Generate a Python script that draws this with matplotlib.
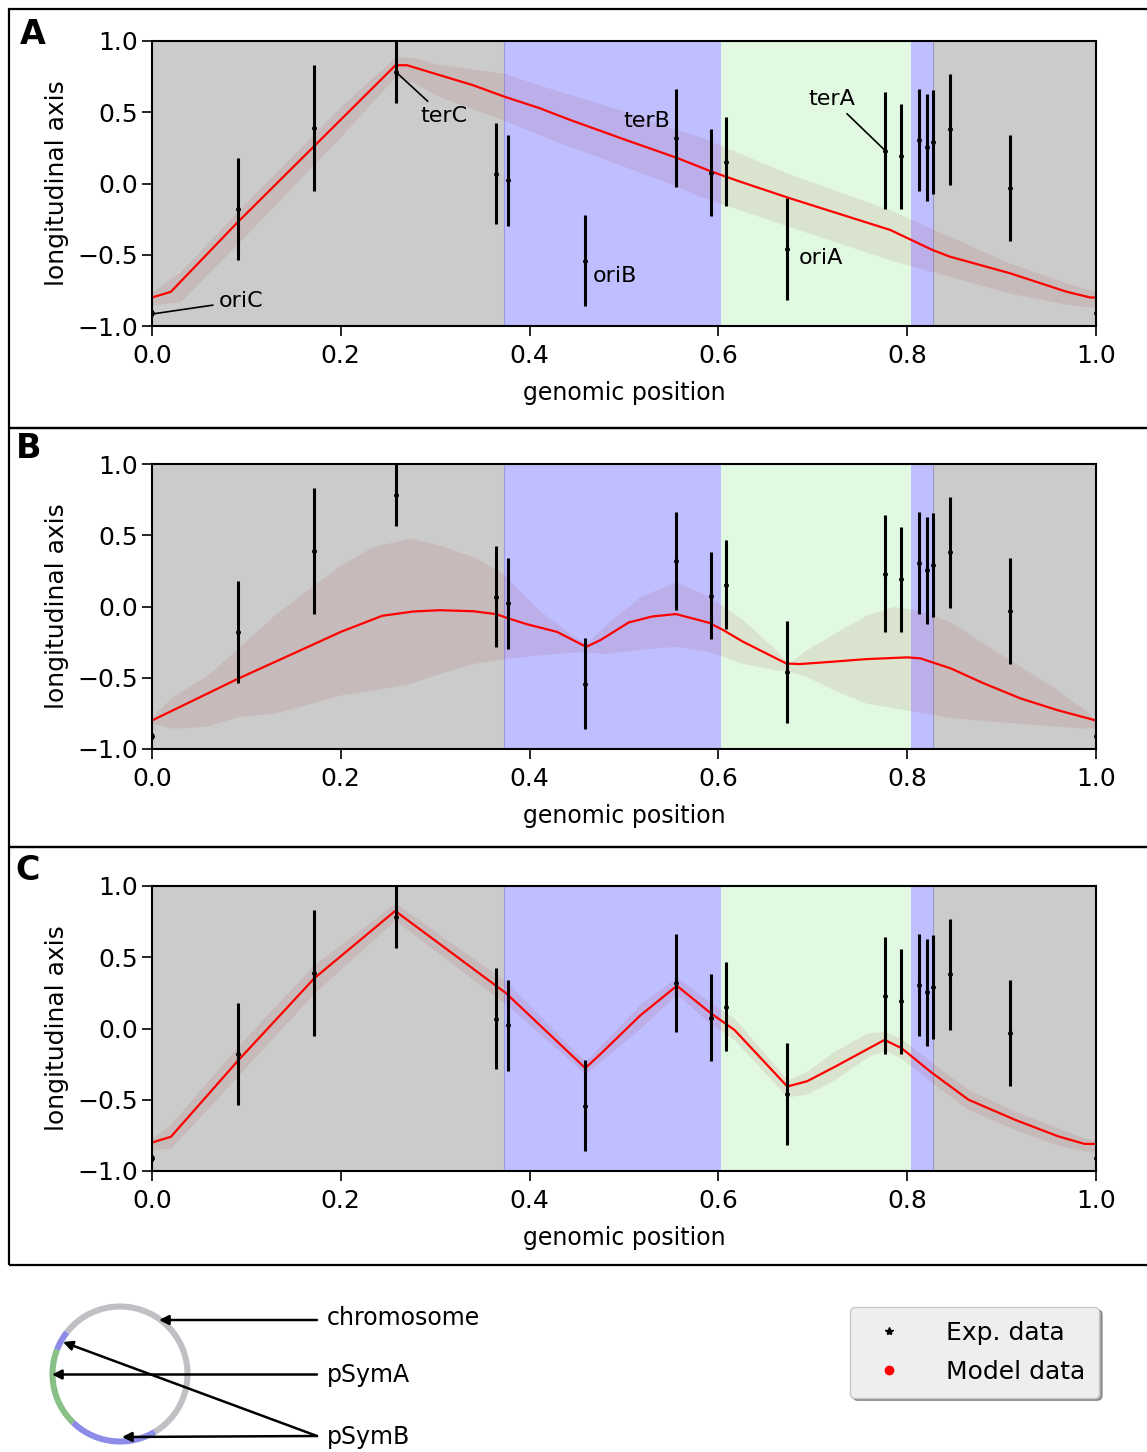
import numpy as np
import matplotlib
matplotlib.use('Agg')
import matplotlib.pyplot as plt
from matplotlib.lines import Line2D
from matplotlib.patches import Rectangle

# experimental data (same in all panels)
exp_x = [0.0, 0.091, 0.172, 0.258, 0.364, 0.377, 0.459, 0.555, 0.592, 0.608,
         0.673, 0.777, 0.793, 0.812, 0.821, 0.827, 0.845, 0.909, 1.0]
exp_y = [-0.911, -0.178, 0.39, 0.785, 0.07, 0.023, -0.542, 0.318, 0.077, 0.154,
         -0.46, 0.229, 0.19, 0.306, 0.255, 0.292, 0.381, -0.03, -0.911]
exp_err = [0.02, 0.36, 0.44, 0.22, 0.353, 0.32, 0.32, 0.343, 0.305, 0.31,
           0.355, 0.41, 0.367, 0.36, 0.375, 0.365, 0.39, 0.37, 0.02]

# replicon regions along the genome
region_edges = [0.0, 0.373, 0.603, 0.804, 0.827, 1.0]
region_colors = ['#cbcbcb', '#bfbfff', '#e1f8e1', '#bfbfff', '#cbcbcb']

# model A
model_a_x = [0, 0.02, 0.091, 0.173, 0.258, 0.27, 0.30, 0.34, 0.373, 0.41, 0.443, 0.50, 0.556,
             0.593, 0.623, 0.674, 0.782, 0.827, 0.845, 0.909, 0.969, 0.994, 1.0]
model_a_y = [-0.80, -0.76, -0.27, 0.27, 0.83, 0.83, 0.77, 0.69, 0.61, 0.53, 0.446, 0.31, 0.18,
             0.083, 0.013, -0.10, -0.326, -0.467, -0.513, -0.63, -0.76, -0.80, -0.80]
band_a_x = [0, 0.03, 0.1, 0.2, 0.258, 0.28, 0.3, 0.372, 0.43, 0.5, 0.556, 0.58, 0.674, 0.782,
            0.909, 0.97, 1.0]
band_a_hi = [-0.76, -0.62, -0.13, 0.54, 0.89, 0.88, 0.84, 0.775, 0.65, 0.51, 0.375, 0.33, 0.07,
             -0.186, -0.56, -0.70, -0.76]
band_a_lo = [-0.85, -0.83, -0.36, 0.33, 0.75, 0.70, 0.62, 0.446, 0.29, 0.12, -0.02, -0.09, -0.30,
             -0.537, -0.77, -0.85, -0.87]

# model B
model_b_x = [0, 0.091, 0.173, 0.2, 0.244, 0.277, 0.305, 0.34, 0.365, 0.376, 0.397, 0.429, 0.46,
             0.475, 0.505, 0.53, 0.555, 0.59, 0.605, 0.626, 0.672, 0.686, 0.722, 0.757, 0.8,
             0.814, 0.846, 0.881, 0.92, 0.959, 1.0]
model_b_y = [-0.80, -0.507, -0.26, -0.178, -0.065, -0.035, -0.026, -0.033, -0.054, -0.08,
             -0.124, -0.178, -0.283, -0.236, -0.112, -0.07, -0.053, -0.114, -0.165, -0.247,
             -0.40, -0.404, -0.387, -0.369, -0.357, -0.364, -0.434, -0.539, -0.645, -0.727, -0.80]
band_b_x = [0, 0.022, 0.057, 0.093, 0.128, 0.163, 0.2, 0.234, 0.273, 0.305, 0.34, 0.372, 0.411,
            0.447, 0.46, 0.482, 0.517, 0.555, 0.59, 0.626, 0.661, 0.674, 0.693, 0.722, 0.757,
            0.786, 0.811, 0.846, 0.881, 0.92, 0.959, 0.988, 1.0]
band_b_hi = [-0.77, -0.63, -0.49, -0.28, -0.07, 0.11, 0.29, 0.42, 0.48, 0.43, 0.35, 0.23, -0.03,
             -0.21, -0.26, -0.12, 0.07, 0.175, 0.07, -0.095, -0.305, -0.40, -0.305, -0.19, -0.06,
             0.0, -0.025, -0.107, -0.26, -0.42, -0.585, -0.725, -0.80]
band_b_lo = [-0.82, -0.855, -0.84, -0.77, -0.75, -0.69, -0.62, -0.585, -0.54, -0.47, -0.40, -0.365,
             -0.34, -0.32, -0.32, -0.33, -0.30, -0.28, -0.317, -0.40, -0.445, -0.45, -0.49, -0.585,
             -0.68, -0.71, -0.74, -0.78, -0.80, -0.82, -0.84, -0.855, -0.85]

# model C
model_c_x = [0, 0.02, 0.0905, 0.172, 0.2576, 0.375, 0.459, 0.475, 0.517, 0.556, 0.592, 0.617,
             0.673, 0.694, 0.723, 0.776, 0.794, 0.826, 0.865, 0.914, 0.96, 0.988, 1.0]
model_c_y = [-0.80, -0.76, -0.23, 0.353, 0.825, 0.248, -0.278, -0.18, 0.09, 0.30, 0.107, -0.01,
             -0.407, -0.37, -0.27, -0.08, -0.138, -0.31, -0.50, -0.64, -0.757, -0.81, -0.81]
band_c_x = [0, 0.02, 0.09, 0.172, 0.2576, 0.375, 0.459, 0.517, 0.556, 0.592, 0.617, 0.673, 0.694,
            0.723, 0.758, 0.776, 0.794, 0.826, 0.865, 0.914, 0.96, 0.988, 1.0]
band_c_hi = [-0.77, -0.67, -0.13, 0.45, 0.88, 0.33, -0.23, 0.17, 0.36, 0.18, 0.07, -0.36, -0.30,
             -0.16, -0.03, -0.02, -0.07, -0.24, -0.43, -0.58, -0.70, -0.77, -0.78]
band_c_lo = [-0.85, -0.84, -0.34, 0.25, 0.76, 0.17, -0.32, 0.0, 0.24, 0.03, -0.08, -0.48, -0.46,
             -0.36, -0.20, -0.15, -0.21, -0.38, -0.57, -0.71, -0.82, -0.86, -0.86]

# labels of origin / terminus in panel A: (name, point x, point y, text x, text y, draw line)
site_labels = [('terC', 0.258, 0.785, 0.309, 0.474, True),
               ('oriC', 0.0, -0.916, 0.094, -0.825, True),
               ('terB', 0.524, 0.44, 0.524, 0.44, False),
               ('oriB', 0.49, -0.65, 0.49, -0.65, False),
               ('terA', 0.777, 0.229, 0.720, 0.593, True),
               ('oriA', 0.709, -0.52, 0.709, -0.52, False)]

# schematic genome: arc angles in degrees
ring_arcs = [(301, 502, '#c0c0c4'), (142, 159, '#8c8ce8'), (159, 226, '#88c088'), (226, 301, '#8c8ce8')]

W, H = 1147, 1452
fig = plt.figure(figsize=(W / 100, H / 100), dpi=100)

panel_tops = [41, 464, 886]
axes = []
for top in panel_tops:
    ax = fig.add_axes([152 / W, 1 - (top + 285) / H, 944 / W, 285 / H])
    axes.append(ax)

models = [(model_a_x, model_a_y, band_a_x, band_a_hi, band_a_lo),
          (model_b_x, model_b_y, band_b_x, band_b_hi, band_b_lo),
          (model_c_x, model_c_y, band_c_x, band_c_hi, band_c_lo)]

for ax, (mx, my, bx, bhi, blo) in zip(axes, models):
    for i in range(len(region_colors)):
        ax.axvspan(region_edges[i], region_edges[i + 1], color=region_colors[i], lw=0, zorder=0)
    ax.axvline(region_edges[1], color='#9a9ae6', lw=0.8, zorder=0.5)
    ax.axvline(region_edges[4], color='#9a9ac6', lw=0.8, zorder=0.5)
    ax.fill_between(bx, blo, bhi, color='brown', alpha=0.1, lw=0, zorder=1)
    ax.plot(mx, my, color='red', lw=1.6, zorder=2)
    ax.errorbar(exp_x, exp_y, yerr=exp_err, fmt='.', color='black', ms=5,
                elinewidth=2.2, capsize=0, zorder=3)
    ax.set_xlim(0, 1)
    ax.set_ylim(-1, 1)
    ax.set_xticks([0, 0.2, 0.4, 0.6, 0.8, 1.0])
    ax.set_yticks([-1, -0.5, 0, 0.5, 1])
    ax.tick_params(direction='out', length=7, width=1.2, labelsize=18)
    ax.tick_params(axis='x', pad=6)
    ax.tick_params(axis='y', pad=3)
    for s in ax.spines.values():
        s.set_linewidth(1.5)
    ax.set_xlabel('genomic position', fontsize=17, labelpad=9)
    ax.set_ylabel('longitudinal axis', fontsize=18, labelpad=6)

for name, px, py, tx, ty, line in site_labels:
    if line:
        axes[0].annotate(name, xy=(px, py), xytext=(tx, ty), fontsize=16, ha='center', va='center',
                         arrowprops=dict(arrowstyle='-', color='black', lw=1.2, shrinkA=2, shrinkB=0),
                         zorder=4)
    else:
        axes[0].text(tx, ty, name, fontsize=16, ha='center', va='center', zorder=4)

# panel frames and letters
frame_lines = [9, 428, 847, 1265]
for k in range(3):
    y0 = 1 - frame_lines[k + 1] / H
    y1 = 1 - frame_lines[k] / H
    fig.add_artist(Rectangle((9 / W, y0), 1.1, y1 - y0, transform=fig.transFigure,
                             fill=False, edgecolor='black', lw=1.6))
for letter, (lx, ly) in zip('ABC', [(33, 34), (29, 449), (28, 871)]):
    fig.text(lx / W, 1 - ly / H, letter, fontsize=24, fontweight='bold', ha='center', va='center')

# schematic of the genome
ax_d = fig.add_axes([0, 0, 1, (H - 1280) / H])
ax_d.set_xlim(0, W)
ax_d.set_ylim(H, 1280)
ax_d.axis('off')
cx, cy, r = 120, 1374, 67.5
for a0, a1, col in ring_arcs:
    t = np.radians(np.linspace(a0, a1, 100))
    ax_d.plot(cx + r * np.cos(t), cy - r * np.sin(t), color=col, lw=4.4, solid_capstyle='butt')

arrow_kw = dict(arrowstyle='-|>', color='black', lw=1.8, mutation_scale=14, shrinkA=0, shrinkB=0)
ax_d.annotate('', xy=(159, 1320), xytext=(317, 1320), arrowprops=arrow_kw)
ax_d.annotate('', xy=(52, 1374.5), xytext=(317, 1374.5), arrowprops=arrow_kw)
ax_d.annotate('', xy=(63, 1342), xytext=(317, 1436), arrowprops=arrow_kw)
ax_d.annotate('', xy=(122, 1437), xytext=(317, 1436), arrowprops=arrow_kw)
for txt, ty in [('chromosome', 1318), ('pSymA', 1375), ('pSymB', 1437)]:
    ax_d.text(327, ty, txt, fontsize=17, ha='left', va='center')

handles = [Line2D([], [], ls='none', marker='*', color='black', ms=6),
           Line2D([], [], ls='none', marker='o', color='red', ms=6)]
leg = fig.legend(handles, ['Exp. data', 'Model data'], loc='upper left',
                 bbox_to_anchor=(850 / W, 1 - 1307 / H), fontsize=18, shadow=True, fancybox=True,
                 handletextpad=1.3, labelspacing=0.6, borderpad=0.55, borderaxespad=0,
                 frameon=True)
leg.get_frame().set_facecolor('#eeeeee')
leg.get_frame().set_edgecolor('#c8c8c8')
leg.get_frame().set_alpha(1)

fig.savefig('out.png', dpi=100)
